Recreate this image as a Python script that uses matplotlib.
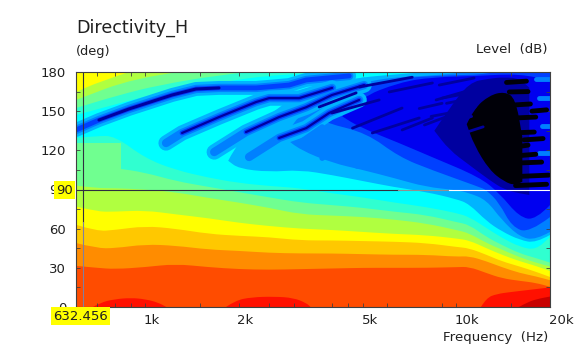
import matplotlib
matplotlib.use('Agg')
import matplotlib.pyplot as plt
from matplotlib.path import Path
from matplotlib.patches import PathPatch

# band colours, warm to cold
DARKRED = '#C80000'
RED = '#FF1000'
ORANGERED = '#FF4C00'
ORANGE = '#FF8C00'
GOLD = '#FFC800'
YELLOW = '#FFFF00'
LIME = '#B0FF40'
GREEN = '#70FF90'
AQUA = '#30FFD0'
CYAN = '#00FFFF'
SKY = '#00B4FF'
AZURE = '#0080FF'
BLUE = '#0040FF'
DEEP = '#0000F0'
NAVY = '#0000A0'
BLACK = '#000008'

freq = [600, 700, 800, 1000, 1250, 1600, 2000, 2500, 3150, 4000, 5000, 6300, 8000, 10000, 11000, 12500, 14000, 16000, 18000, 20000]

# angle where each band ends, going up from 0 deg
orangered_top = [31.5, 30, 29, 30.5, 33, 30.5, 29, 28.5, 29, 29.5, 30, 30, 30, 30.5, 30.8, 26, 22, 20, 18.5, 15.5]
orange_top = [49, 45, 45, 48, 47, 44, 43, 41.5, 41, 41, 40.5, 40, 40, 38.5, 39, 35, 30.5, 26, 23.5, 20.5]
gold_top = [63, 58, 59, 62, 60, 56, 54.5, 53.5, 51, 51, 50.5, 50, 49, 46, 45, 40, 35, 31, 27, 23]
yellow_top = [77, 73, 73, 74, 71, 68, 64.5, 62, 60, 59, 57.5, 56, 55, 52.5, 51, 45, 40, 35, 31.5, 27.5]
lime_top = [93, 91, 91, 90, 88, 83.5, 80, 76, 71, 70, 69, 67, 64, 59, 56.5, 49, 44, 38, 34, 31]
green_top = [108.8, 107, 106.5, 103, 96.5, 92, 88, 84, 80, 78, 76, 73, 70.5, 65, 63, 53.6, 47.5, 41, 37.5, 34]
aqua_top = [129.5, 131, 131, 114, 105, 99, 95, 92.7, 91, 87, 84, 80, 76.6, 72, 69, 60.5, 53, 46, 43.7, 53.6]

green_block_f = [600, 840]
green_block_low = [100, 100]
green_block_top = [125.6, 125.6]

# red patches next to the 0 deg edge
red1_f = [680, 720, 800, 900, 1000, 1100, 1170]
red1_deg = [0, 3.5, 6, 7, 6, 3.5, 0]
red2_f = [1820, 1950, 2200, 2600, 3000, 3300, 3400]
red2_deg = [0, 5, 7.5, 8, 7, 3, 0]
red3_f = [12000, 12500, 13500, 15000, 17000, 20000]
red3_deg = [0, 7, 10, 11.5, 13, 15]
darkred_f = [15900, 17000, 18500, 20000]
darkred_deg = [0, 4, 6.5, 8]

# rear lobe, top left corner
yellow_rear_f = [600, 711, 888]
yellow_rear = [164.7, 172.4, 180]
lime_rear_f = [600, 920, 1286]
lime_rear = [158.6, 175.4, 180]
green_rear_f = [600, 825, 1109, 1729, 2159]
green_rear = [152.4, 162.4, 170, 177.7, 180]
aqua_rear_f = [600, 825, 1194, 1729, 2696, 4204]
aqua_rear = [147, 156, 166, 172, 178.5, 180]

# cold areas, each one (freq, lower angle, upper angle)
sky_f = [1850, 2000, 2500, 3150, 4000, 5000, 6300, 8000, 10000, 11000, 12500, 14000, 16000, 18000, 20000]
sky_low = [112, 106, 103.4, 105, 101, 96.5, 91.9, 88.1, 82.7, 78.9, 65.8, 57.9, 51.3, 49, 55.2]
sky_up = [112, 128, 147, 164.7, 172, 176, 178, 180, 180, 180, 180, 180, 180, 180, 180]
azure_f = [2800, 3150, 4000, 5000, 6300, 8000, 10000, 11000, 12500, 14000, 16000, 18000, 20000]
azure_low = [130, 120.3, 110.3, 105, 98.8, 91.9, 89.6, 87.3, 82, 66.6, 53.6, 51.3, 57.5]
azure_up = [130, 150, 164, 172, 176, 177, 179, 180, 180, 180, 180, 180, 180]
blue_f = [3500, 3820, 5150, 6555, 8340, 11852, 12500, 13743, 15100, 17162, 20000]
blue_low = [146, 140.9, 133.3, 114.9, 104.9, 91.9, 89.6, 79.7, 61.3, 56.7, 68.9]
blue_up = [146, 155, 170, 175, 177, 178, 179, 180, 180, 180, 180]
deep_f = [4300, 4875, 6555, 8340, 11852, 13743, 15937, 18000, 20000]
deep_low = [146, 137.9, 125.6, 114.9, 99.6, 87.3, 68.9, 66.6, 78.1]
deep_up = [146, 160, 172, 176, 177, 178, 178, 176, 174]
navy_f = [8500, 9491, 11006, 12762, 14250, 15937, 17162]
navy_low = [135, 120.3, 108.8, 97.3, 90, 87, 85.8]
navy_up = [135, 152, 172, 175, 176, 175, 168]
black_f = [10800, 11410, 12762, 14250, 15500, 16300]
black_low = [140, 124, 105, 96, 93, 96]
black_up = [140, 152, 162, 165, 160, 130]

# the long dips running up to the right
lobe1_f = [600, 711, 888, 1222, 1458, 1729, 2274, 2903, 3293, 4527]
lobe1_deg = [135.6, 143.2, 151.7, 162.4, 167, 167.8, 167.8, 170, 173.9, 177]
lobe2_f = [1168, 1315, 1729, 2274, 2504, 3127, 3988]
lobe2_deg = [125.6, 133.3, 145.5, 157, 160, 160, 167.8]
lobe3_f = [1668, 2110, 2696, 3293, 3988, 5058]
lobe3_deg = [118.7, 134, 145.5, 153, 162.4, 170]
lobe4_f = [2159, 2696, 3293, 3904, 4875]
lobe4_deg = [114.9, 129.5, 137, 148.6, 158.6]

# small teeth on the lower edge of the blue area
tooth_f = [(3127, 3707), (3400, 3900), (3707, 4204), (4300, 4750), (4800, 5250), (5400, 5800)]
tooth_deg = [(125.6, 137.9), (120, 130), (114, 124), (112, 121), (108, 117), (106, 114)]

# short dark stripes in the upper right
stripe_f = [(3625, 4767), (3988, 5653), (4639, 6697), (5372, 7601), (6697, 8380), (4875, 7220),
            (6087, 8380), (7900, 10600), (8610, 11006), (8814, 11410), (7600, 9000), (9300, 10700),
            (8300, 9700), (10000, 11500), (9000, 10500), (10700, 12300), (9800, 11200), (11500, 13500),
            (12800, 14500), (10500, 12200), (13000, 15000)]
stripe_deg = [(153.2, 164), (148.6, 158.6), (137, 152.4), (133.3, 144.8), (135.6, 144.8), (168.5, 176),
              (164.7, 171.6), (139.4, 150.9), (158.6, 166), (170, 175.4), (152, 156), (156, 159),
              (146, 149), (150, 153), (160, 163), (163, 165), (142, 146), (168, 170), (172, 174),
              (133, 138), (166, 168)]
blotch_f = [(15500, 18000), (15000, 17800), (15500, 17000), (15800, 18800), (15200, 17300), (14800, 17000),
            (15500, 19500), (14500, 16800), (16500, 19000), (15800, 19800), (16000, 18000), (17500, 19500)]
blotch_deg = [(144.8, 145.5), (133.3, 134), (122.6, 124), (110.3, 111), (154.7, 155.5), (164.7, 165),
              (93, 94), (172, 173), (128, 129), (100, 101), (116, 117), (150, 151)]
patch_f = [(18000, 20000), (18500, 20000), (18800, 20000), (18500, 20000)]
patch_deg = [(175, 175), (160, 160), (139, 139), (118, 118)]

cursor_freq = 632.456
cursor_deg = 90

xtick_major = [1000, 2000, 5000, 10000, 20000]
xtick_labels = ['1k', '2k', '5k', '10k', '20k']
xtick_shift = [7, 6, 7, 11, 11]
xtick_minor = [700, 800, 900, 1500, 2500, 3000, 4000, 4500, 6000, 9000, 15000]
ytick_major = [0, 30, 60, 90, 120, 150, 180]
ytick_minor = [15, 45, 75, 105, 135, 165]


def soft(f, d):
    # quadratic pieces through the midpoints so the band edges are not angular
    verts = [(f[0], d[0])]
    codes = []
    for i in range(1, len(f) - 1):
        mid = ((f[i] * f[i+1]) ** 0.5, (d[i] + d[i+1]) / 2)
        verts += [(f[i], d[i]), mid]
        codes += [Path.CURVE3, Path.CURVE3]
    verts.append((f[-1], d[-1]))
    codes.append(Path.LINETO)
    return verts, codes


def band(ax, f, low, up, color):
    if not isinstance(low, (list, tuple)):
        low = [low] * len(f)
    if not isinstance(up, (list, tuple)):
        up = [up] * len(f)
    v1, c1 = soft(f, up)
    v2, c2 = soft(f[::-1], low[::-1])
    verts = v1 + v2 + [v1[0]]
    codes = [Path.MOVETO] + c1 + [Path.LINETO] + c2 + [Path.CLOSEPOLY]
    ax.add_patch(PathPatch(Path(verts, codes), facecolor=color, edgecolor='none', lw=0))


fig = plt.figure(figsize=(5.84, 3.51), dpi=100)
ax = fig.add_axes([76/584, 44/351, 474/584, 235/351], facecolor=CYAN)
ax.set_xscale('log')
ax.set_xlim(600, 20000)
ax.set_ylim(0, 180)

for f, d, c in [(aqua_rear_f, aqua_rear, AQUA), (green_rear_f, green_rear, GREEN),
                (lime_rear_f, lime_rear, LIME), (yellow_rear_f, yellow_rear, YELLOW)]:
    band(ax, f, d, 180, c)

for d, lw, c in [(lobe1_deg, 10, SKY), (lobe1_deg, 6, AZURE), (lobe1_deg, 3.5, BLUE)]:
    ax.plot(lobe1_f, d, color=c, lw=lw, solid_capstyle='round')
ax.plot(lobe1_f[1:6], lobe1_deg[1:6], color=NAVY, lw=2.2, solid_capstyle='round')

for f, d in [(lobe2_f, lobe2_deg), (lobe3_f, lobe3_deg), (lobe4_f, lobe4_deg)]:
    ax.plot(f, d, color=SKY, lw=11, solid_capstyle='round')

for f, lo, up, c in [(sky_f, sky_low, sky_up, SKY), (azure_f, azure_low, azure_up, AZURE),
                     (blue_f, blue_low, blue_up, BLUE), (deep_f, deep_low, deep_up, DEEP),
                     (navy_f, navy_low, navy_up, NAVY), (black_f, black_low, black_up, BLACK)]:
    band(ax, f, lo, up, c)

for f, d in [(lobe2_f, lobe2_deg), (lobe3_f, lobe3_deg), (lobe4_f, lobe4_deg)]:
    ax.plot(f, d, color=AZURE, lw=6, solid_capstyle='round')
    ax.plot(f[1:], d[1:], color=BLUE, lw=3.5, solid_capstyle='round')
    ax.plot(f[1:], d[1:], color=NAVY, lw=1.6, solid_capstyle='round')

for f, d in zip(tooth_f, tooth_deg):
    ax.plot(f, d, color=AZURE, lw=4, solid_capstyle='round')
for f, d in zip(stripe_f, stripe_deg):
    ax.plot(f, d, color=NAVY, lw=2, solid_capstyle='round')
for f, d in zip(patch_f, patch_deg):
    ax.plot(f, d, color=AZURE, lw=3.5, solid_capstyle='round')
for f, d in zip(blotch_f, blotch_deg):
    ax.plot(f, d, color=BLACK, lw=3.5, solid_capstyle='round')

band(ax, freq, 0, aqua_top, AQUA)
band(ax, freq, 0, green_top, GREEN)
ax.fill_between(green_block_f, green_block_low, green_block_top, color=GREEN, lw=0)
for top, c in [(lime_top, LIME), (yellow_top, YELLOW), (gold_top, GOLD), (orange_top, ORANGE), (orangered_top, ORANGERED)]:
    band(ax, freq, 0, top, c)
for f, d, c in [(red1_f, red1_deg, RED), (red2_f, red2_deg, RED), (red3_f, red3_deg, RED), (darkred_f, darkred_deg, DARKRED)]:
    band(ax, f, 0, d, c)

# cursor lines change colour with what is behind them
ax.plot([600, 6500], [cursor_deg, cursor_deg], color='#303040', lw=0.8)
ax.plot([6500, 9500], [cursor_deg, cursor_deg], color='#909090', lw=0.8)
ax.plot([9500, 20000], [cursor_deg, cursor_deg], color='white', lw=0.8)
ax.plot([cursor_freq, cursor_freq], [65, 180], color='#303040', lw=0.8)
ax.plot([cursor_freq, cursor_freq], [0, 65], color='#8080A0', lw=0.8)

ax.set_xticks(xtick_major)
ax.set_xticks(xtick_minor, minor=True)
ax.set_xticklabels([])
ax.set_xticklabels([], minor=True)
ax.set_yticks(ytick_major)
ax.set_yticks(ytick_minor, minor=True)
ax.tick_params(which='both', direction='in', length=3, width=0.6, color='#404040', top=True, right=True,
               labelsize=9.5, labelcolor='#202020', pad=7)
for s in ax.spines.values():
    s.set_linewidth(0.8)
    s.set_color('#404040')

for f, t, sh in zip(xtick_major, xtick_labels, xtick_shift):
    ax.annotate(t, (f, 0), xytext=(sh*0.72, -10), textcoords='offset points', ha='center', va='center',
                fontsize=9.5, color='#202020', annotation_clip=False)

fig.text(76/584, 1-28/351, 'Directivity_H', fontsize=12.6, color='#202020', va='center')
fig.text(76/584, 1-51/351, '(deg)', fontsize=9.3, color='#202020', va='center')
fig.text(548/584, 1-50/351, 'Level  (dB)', fontsize=9.5, color='#202020', va='center', ha='right')
fig.text(548/584, 1-337/351, 'Frequency  (Hz)', fontsize=9.6, color='#202020', va='center', ha='right')

box = dict(facecolor='#FFFF00', edgecolor='none', pad=1.5)
fig.text(56/584, 1-190/351, '90', fontsize=9.5, color='#202020', va='center', bbox=box, zorder=5)
fig.text(53/584, 1-316/351, '632.456', fontsize=9.5, color='#202020', va='center', bbox=box, zorder=5)

fig.savefig('out.png', dpi=100)
